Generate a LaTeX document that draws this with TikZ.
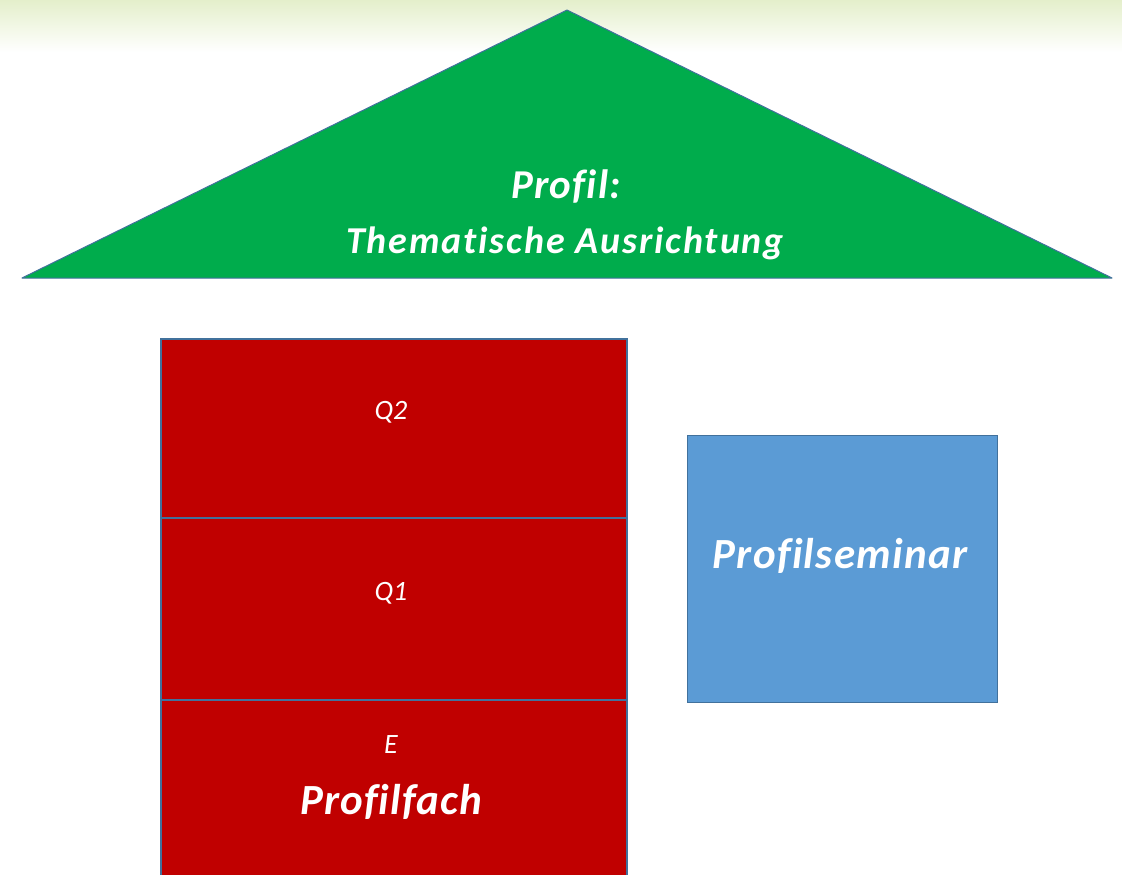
\documentclass[tikz,border=0pt]{standalone}
\usepackage{fontspec}
\setmainfont{Carlito}[Ligatures=NoCommon]
\definecolor{roofgreen}{HTML}{00AC4C}
\definecolor{boxred}{HTML}{C00000}
\definecolor{boxblue}{HTML}{5B9BD5}
\definecolor{edgeblue}{HTML}{41719C}
\definecolor{bandgreen}{HTML}{E4EFCB}
\newcommand{\bigfont}[2]{\bfseries\itshape\addfontfeatures{LetterSpace=#2}\fontsize{#1}{#1}\selectfont}
\tikzset{
  redbox/.style={fill=boxred, draw=edgeblue, line width=1.5pt},
  bluebox/.style={fill=boxblue, draw=edgeblue, line width=1pt},
  lbl/.style={text=white, align=center, inner sep=0pt},
  small/.style={text=white, inner sep=0pt, font=\itshape\fontsize{28}{28}\selectfont}
}
\begin{document}
\begin{tikzpicture}[x=1pt,y=-1pt]
\useasboundingbox (0,0) rectangle (1122,875);
\fill[white] (0,0) rectangle (1122,875);
\shade[top color=bandgreen, bottom color=white] (0,0) rectangle (1122,52);
% roof
\filldraw[fill=roofgreen, draw=edgeblue, line width=1pt, line join=round] (22,278) -- (567,10) -- (1112,278) -- cycle;
\node[lbl, font=\bigfont{41}{3}] (roofa) at (566,186) {Profil:};
\node[lbl, font=\bigfont{38}{5}] (roofb) at (565,243) {Thematische Ausrichtung};
% red stack
\node[redbox, minimum width=466pt, minimum height=179pt, anchor=north west, inner sep=0pt] (q2) at (160,338) {};
\node[redbox, minimum width=466pt, minimum height=182pt, anchor=north west, inner sep=0pt] (q1) at (160,517) {};
\node[redbox, minimum width=466pt, minimum height=200pt, anchor=north west, inner sep=0pt] (e) at (160,699) {};
\node[small] (q2t) at (391,412) {Q2};
\node[small] (q1t) at (391,593) {Q1};
\node[small] (et) at (391,745) {E};
\node[lbl, font=\bigfont{43}{2.5}] (pf) at (391,802) {Profilfach};
% blue box
\node[bluebox, minimum width=310pt, minimum height=267pt, anchor=north west, inner sep=0pt] (ps) at (687,435) {};
\node[lbl, font=\bigfont{43}{3}] (pst) at (840,556) {Profilseminar};
\end{tikzpicture}
\end{document}
